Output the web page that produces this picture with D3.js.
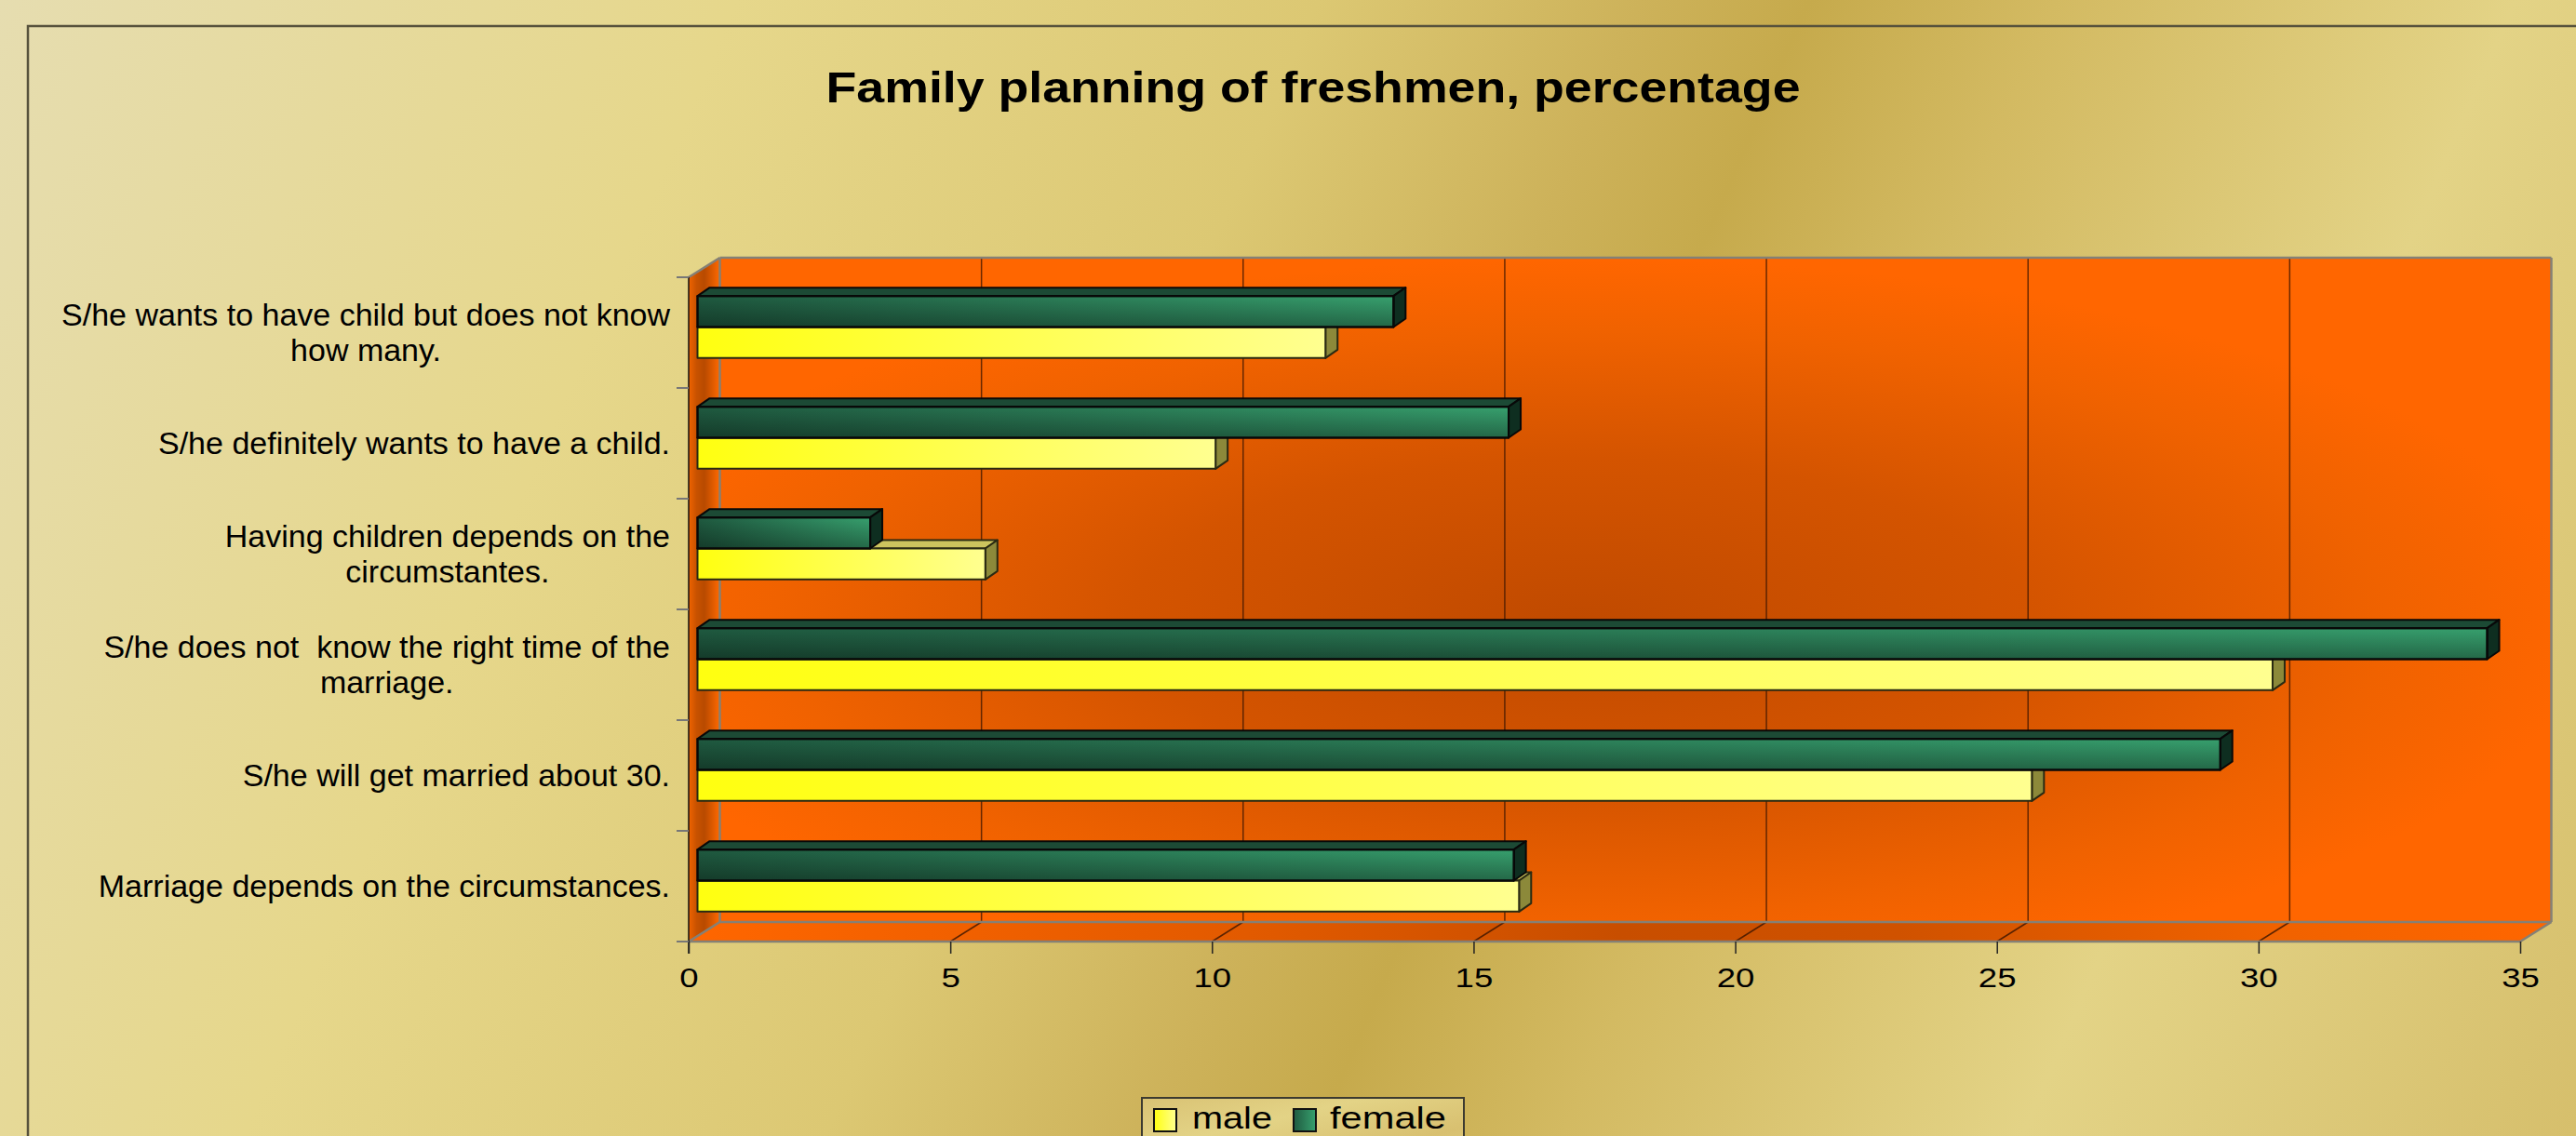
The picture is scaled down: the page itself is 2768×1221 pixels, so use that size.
<!DOCTYPE html>
<html>
<head>
<meta charset="utf-8">
<script src="https://cdn.jsdelivr.net/npm/d3@7"></script>
<style>
body { margin: 0; overflow: hidden; }
svg { display: block; font-family: "Liberation Sans", Arial, sans-serif; }
</style>
</head>
<body>
<svg id="chart" width="2768" height="1221"></svg>
<script>
// categories top to bottom, values in percent
const categories = [
  "S/he wants to have child but does not know\nhow many.",
  "S/he definitely wants to have a child.",
  "Having children depends on the\ncircumstantes.",
  "S/he does not  know the right time of the\nmarriage.",
  "S/he will get married about 30.",
  "Marriage depends on the circumstances."
]
const maleValues = [12.0, 9.9, 5.5, 30.1, 25.5, 15.7]
const femaleValues = [13.3, 15.5, 3.3, 34.2, 29.1, 15.6]
const seriesNames = ["male", "female"]
const xTicks = [0, 5, 10, 15, 20, 25, 30, 35]

const svg = d3.select("#chart")
const defs = svg.append("defs")

// gradients
function linGrad(id, stops, x1, y1, x2, y2, units) {
  const g = defs.append("linearGradient").attr("id", id)
    .attr("x1", x1).attr("y1", y1).attr("x2", x2).attr("y2", y2)
  if (units) g.attr("gradientUnits", units)
  stops.forEach(s => g.append("stop").attr("offset", s[0]).attr("stop-color", s[1]).attr("stop-opacity", s[2] == null ? 1 : s[2]))
}
linGrad("gBg", [[0, "#E6DDB0"], [0.24, "#E6D78B"], [0.43, "#DCC873"], [0.535, "#CDB25A"], [0.59, "#C6AA4C"],
  [0.67, "#D3BA62"], [0.82, "#E3D386"], [1, "#D6BF6C"]], 0, 0, 2773, 1204, "userSpaceOnUse")
linGrad("gSide", [[0, "#F06400"], [0.25, "#C85200"], [0.5, "#B84A00"], [0.8, "#E25C00"], [1, "#FF6A00"]], 0, 0, 1, 0)
linGrad("gFloor", [[0, "#FF6600"], [0.3, "#E25A00"], [0.5, "#C84E00"], [0.65, "#D05200"], [0.85, "#F06200"], [1, "#FF6600"]], 0, 0, 1, 0)
linGrad("gFemale", [[0, "#1F5A40"], [1, "#37A06E"]], 0, 0, 1, 0)
linGrad("gMale", [[0, "#FFFF10"], [1, "#FFFF90"]], 0, 0, 1, 0)
linGrad("gShade", [[0, "#000", 0], [1, "#000", 0.35]], 0, 0, 0, 1)
linGrad("gLegend", [[0, "#D9C274"], [0.35, "#E3D386"], [0.7, "#D8C070"], [1, "#E2D182"]], 0, 0, 1, 1)

const wallGrad = defs.append("radialGradient").attr("id", "gWall")
  .attr("cx", 0.47).attr("cy", 0.55).attr("r", 0.55)
wallGrad.append("stop").attr("offset", 0).attr("stop-color", "#C04A00")
wallGrad.append("stop").attr("offset", 0.45).attr("stop-color", "#D45400")
wallGrad.append("stop").attr("offset", 0.8).attr("stop-color", "#F06200")
wallGrad.append("stop").attr("offset", 1).attr("stop-color", "#FF6600")

// background + frame
svg.append("rect").attr("width", 2768).attr("height", 1221).attr("fill", "url(#gBg)")
svg.append("rect").attr("x", 30).attr("y", 28).attr("width", 2800).attr("height", 1300)
  .attr("fill", "none").attr("stroke", "#57523c").attr("stroke-width", 2.5)

// title
svg.append("text")
  .attr("x", 1411).attr("y", 110)
  .attr("text-anchor", "middle")
  .attr("font-size", 47).attr("font-weight", "bold")
  .attr("textLength", 1047).attr("lengthAdjust", "spacingAndGlyphs")
  .text("Family planning of freshmen, percentage")

// scales
const x = d3.scaleLinear().domain([0, 35]).range([740, 2708])
const y = d3.scaleBand().domain(categories).range([298, 1012]).paddingInner(0.44).paddingOuter(0.22)
const ySeries = d3.scaleBand().domain(["female", "male"]).range([0, y.bandwidth()])

const depth = { dx: 33.5, dy: -21 }   // box depth
const barOff = { dx: 9.5, dy: -6 }    // bar front face offset inside box
const barDepth = { dx: 13, dy: -9 }

const x0 = x(0), x1 = x(35)
const yTop = y.range()[0], yBot = y.range()[1]
const pts = a => a.map(p => p.join(",")).join(" ")

const plot = svg.append("g")

// back wall
plot.append("rect")
  .attr("x", x0 + depth.dx).attr("y", yTop + depth.dy)
  .attr("width", x1 - x0).attr("height", yBot - yTop)
  .attr("fill", "url(#gWall)")
// side wall
plot.append("polygon")
  .attr("points", pts([[x0, yTop], [x0 + depth.dx, yTop + depth.dy], [x0 + depth.dx, yBot + depth.dy], [x0, yBot]]))
  .attr("fill", "url(#gSide)")
// floor
plot.append("polygon")
  .attr("points", pts([[x0, yBot], [x0 + depth.dx, yBot + depth.dy], [x1 + depth.dx, yBot + depth.dy], [x1, yBot]]))
  .attr("fill", "url(#gFloor)")

// gridlines on wall and floor
const gridVals = xTicks.filter(v => v > 0 && v < 35)
plot.selectAll("line.grid").data(gridVals).join("line")
  .attr("class", "grid")
  .attr("x1", d => x(d) + depth.dx).attr("x2", d => x(d) + depth.dx)
  .attr("y1", yTop + depth.dy).attr("y2", yBot + depth.dy)
  .attr("stroke", "#3a1400").attr("stroke-opacity", 0.75).attr("stroke-width", 1.5)
plot.selectAll("line.fgrid").data(gridVals).join("line")
  .attr("class", "fgrid")
  .attr("x1", d => x(d)).attr("x2", d => x(d) + depth.dx)
  .attr("y1", yBot).attr("y2", yBot + depth.dy)
  .attr("stroke", "#3a1400").attr("stroke-opacity", 0.8).attr("stroke-width", 1.5)

// gray box edges
const edges = [
  [[x0 + depth.dx, yTop + depth.dy], [x1 + depth.dx, yTop + depth.dy]],
  [[x0 + depth.dx, yTop + depth.dy], [x0 + depth.dx, yBot + depth.dy]],
  [[x0 + depth.dx, yBot + depth.dy], [x1 + depth.dx, yBot + depth.dy]],
  [[x1 + depth.dx, yTop + depth.dy], [x1 + depth.dx, yBot + depth.dy]],
  [[x0, yTop], [x0 + depth.dx, yTop + depth.dy]],
  [[x0, yBot], [x0 + depth.dx, yBot + depth.dy]],
  [[x1, yBot], [x1 + depth.dx, yBot + depth.dy]],
  [[x0, yBot], [x1, yBot]]
]
plot.selectAll("line.edge").data(edges).join("line")
  .attr("class", "edge")
  .attr("x1", d => d[0][0]).attr("y1", d => d[0][1])
  .attr("x2", d => d[1][0]).attr("y2", d => d[1][1])
  .attr("stroke", "#858075").attr("stroke-width", 2.5)

// left axis line and category boundary ticks
plot.append("line").attr("x1", x0).attr("x2", x0).attr("y1", yTop).attr("y2", yBot + 13)
  .attr("stroke", "#111").attr("stroke-width", 1.5)
const bounds = d3.range(categories.length + 1).map(i => yTop + i * y.step())
plot.selectAll("line.ctick").data(bounds).join("line")
  .attr("class", "ctick")
  .attr("x1", x0 - 13).attr("x2", x0).attr("y1", d => d).attr("y2", d => d)
  .attr("stroke", "#777").attr("stroke-width", 2)

// bars
const barStyle = {
  male: { front: "url(#gMale)", top: "#CCC45E", side: "#8C893A", stroke: "#2a2a12", shade: false },
  female: { front: "url(#gFemale)", top: "#1C4A35", side: "#0E2E20", stroke: "#080808", shade: true }
}
function drawBar(g, cat, key, v) {
  const st = barStyle[key]
  const bx0 = x(0) + barOff.dx, bx1 = x(v) + barOff.dx
  const by = y(cat) + ySeries(key) + barOff.dy, h = ySeries.bandwidth()
  const b = g.append("g").attr("stroke", st.stroke).attr("stroke-width", 2).attr("stroke-linejoin", "round")
  b.append("polygon")
    .attr("points", pts([[bx0, by], [bx0 + barDepth.dx, by + barDepth.dy], [bx1 + barDepth.dx, by + barDepth.dy], [bx1, by]]))
    .attr("fill", st.top)
  b.append("polygon")
    .attr("points", pts([[bx1, by], [bx1 + barDepth.dx, by + barDepth.dy], [bx1 + barDepth.dx, by + h + barDepth.dy], [bx1, by + h]]))
    .attr("fill", st.side)
  b.append("rect").attr("x", bx0).attr("y", by).attr("width", bx1 - bx0).attr("height", h)
    .attr("fill", st.front)
  if (st.shade) {
    b.append("rect").attr("x", bx0).attr("y", by).attr("width", bx1 - bx0).attr("height", h)
      .attr("fill", "url(#gShade)").attr("stroke", "none")
    b.append("rect").attr("x", bx0).attr("y", by).attr("width", bx1 - bx0).attr("height", h)
      .attr("fill", "none")
  }
}
plot.selectAll("g.cat").data(categories).join("g")
  .attr("class", "cat")
  .each(function (cat, i) {
    const g = d3.select(this)
    drawBar(g, cat, "male", maleValues[i])     // male first, female drawn over its top face
    drawBar(g, cat, "female", femaleValues[i])
  })

// x axis
const xAxis = svg.append("g").attr("transform", `translate(0,${yBot})`)
  .call(d3.axisBottom(x).tickValues(xTicks).tickSize(13).tickPadding(15))
xAxis.select(".domain").remove()
xAxis.selectAll(".tick line").attr("stroke", "#222").attr("stroke-width", 1.5)
xAxis.selectAll(".tick text")
  .attr("font-size", 30).attr("font-family", "Liberation Sans, Arial, sans-serif")
  .attr("fill", "#000").attr("transform", "scale(1.22,1)")

// category labels, centred lines, right edge of block at 720
const labels = svg.append("g").attr("font-size", 34).attr("fill", "#000")
categories.forEach(cat => {
  const lines = cat.split("\n")
  const cy = y(cat) + y.bandwidth() / 2
  const t = labels.append("text").attr("text-anchor", "middle").style("white-space", "pre")
  const spans = lines.map((ln, j) => t.append("tspan")
    .attr("y", cy + 11 + (j - (lines.length - 1) / 2) * 38).text(ln))
  const w = d3.max(spans, s => s.node().getComputedTextLength())
  spans.forEach(s => s.attr("x", 720 - w / 2))
})

// legend
const legend = svg.append("g")
legend.append("rect").attr("x", 1227).attr("y", 1180).attr("width", 346).attr("height", 80)
  .attr("fill", "url(#gLegend)").attr("stroke", "#3c3a30").attr("stroke-width", 2)
const legendPos = { male: { sx: 1240, tx: 1281, tw: 86 }, female: { sx: 1390, tx: 1429, tw: 125 } }
seriesNames.forEach(name => {
  const p = legendPos[name]
  legend.append("rect").attr("x", p.sx).attr("y", 1192).attr("width", 24).attr("height", 24)
    .attr("fill", barStyle[name].front).attr("stroke", "#111").attr("stroke-width", 2)
  legend.append("text").attr("x", p.tx).attr("y", 1213).attr("font-size", 34)
    .attr("textLength", p.tw).attr("lengthAdjust", "spacingAndGlyphs").text(name)
})
</script>
</body>
</html>
